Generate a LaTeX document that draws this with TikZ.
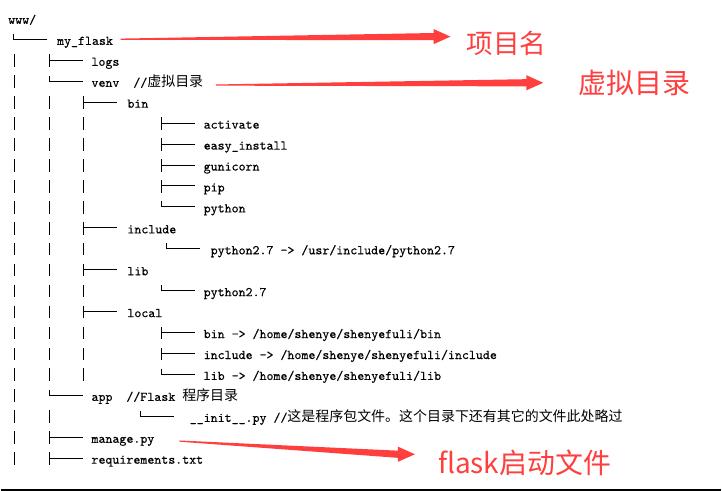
\documentclass[tikz,border=0pt]{standalone}
\usepackage{fontspec}
\setmonofont{Latin Modern Mono}[FakeBold=0.3]
\newfontfamily\cjk{Noto Sans CJK SC}
\usetikzlibrary{calc}
\definecolor{notered}{RGB}{255,62,62}
\tikzset{
         treeline/.style={line width=0.75pt,black},
         file/.style={anchor=base west,inner sep=0pt,font=\ttfamily\fontsize{10}{12}\selectfont},
         redlabel/.style={inner sep=0pt,text=notered,font=\cjk\fontsize{20}{24}\selectfont},
         redarrow/.style={fill=notered}
        }
\newcommand{\zh}[1]{{\cjk\fontsize{10.5}{12}\selectfont #1}}
\newcommand{\treebar}[2]{\draw[treeline](#1,#2-11.5)--(#1,#2+1.2);}
\newcommand{\treetee}[2]{\draw[treeline](#1,#2-11.5)--(#1,#2+1.2)(#1,#2-5.5)--(#1+34,#2-5.5);}
\newcommand{\treeelbow}[2]{\draw[treeline](#1,#2-11)--(#1,#2-5.5)--(#1+34,#2-5.5);}
\newcommand{\notearrow}[2]{\fill[redarrow]($(#1)+(0,-0.6)$)--($(#2)+(-17,-3.6)$)--($(#2)+(-17,-7.6)$)--(#2)--($(#2)+(-17,7.6)$)--($(#2)+(-17,3.6)$)--($(#1)+(0,0.6)$)--cycle;}

\begin{document}
\begin{tikzpicture}[x=0.75pt,y=-0.75pt]
\fill[white](0,0)rectangle(722,492);
\draw[line width=1.5pt](0,491)--(722,491);
% the tree
\node[file](root)at(7,24){www/};
\treeelbow{12.5}{45}
\node[file](myflask)at(56,45){my\_flask};
\treebar{13.5}{66}\treetee{48.5}{66}
\node[file](logs)at(90.5,66){logs};
\treebar{13.5}{87}\treeelbow{48.5}{87}
\node[file](venv)at(90.5,87){venv\ \ //\zh{虚拟目录}};
\treebar{13.5}{108}\treebar{48.5}{108}\treetee{82.5}{108}
\node[file](bin)at(126.5,108){bin};
\treebar{13.5}{129}\treebar{48.5}{129}\treebar{82.5}{129}\treetee{160.5}{129}
\node[file](activate)at(203,129){activate};
\treebar{13.5}{150}\treebar{48.5}{150}\treebar{82.5}{150}\treetee{160.5}{150}
\node[file](easyinstall)at(203,150){easy\_install};
\treebar{13.5}{171}\treebar{48.5}{171}\treebar{82.5}{171}\treetee{160.5}{171}
\node[file](gunicorn)at(203,171){gunicorn};
\treebar{13.5}{192}\treebar{48.5}{192}\treebar{82.5}{192}\treetee{160.5}{192}
\node[file](pip)at(203,192){pip};
\treebar{13.5}{213}\treebar{48.5}{213}\treebar{82.5}{213}\treeelbow{160.5}{213}
\node[file](python)at(203,213){python};
\treebar{13.5}{234}\treebar{48.5}{234}\treetee{82.5}{234}
\node[file](include)at(126.5,234){include};
\treebar{13.5}{255}\treebar{48.5}{255}\treebar{82.5}{255}\treeelbow{165.5}{255}
\node[file](incpython)at(210,255){python2.7 -> /usr/include/python2.7};
\treebar{13.5}{276}\treebar{48.5}{276}\treetee{82.5}{276}
\node[file](lib)at(126.5,276){lib};
\treebar{13.5}{297}\treebar{48.5}{297}\treebar{82.5}{297}\treeelbow{160.5}{297}
\node[file](libpython)at(203,297){python2.7};
\treebar{13.5}{318}\treebar{48.5}{318}\treetee{82.5}{318}
\node[file](local)at(126.5,318){local};
\treebar{13.5}{339}\treebar{48.5}{339}\treebar{82.5}{339}\treetee{160.5}{339}
\node[file](localbin)at(203,339){bin -> /home/shenye/shenyefuli/bin};
\treebar{13.5}{360}\treebar{48.5}{360}\treebar{82.5}{360}\treetee{160.5}{360}
\node[file](localinc)at(203,360){include -> /home/shenye/shenyefuli/include};
\treebar{13.5}{381}\treebar{48.5}{381}\treebar{82.5}{381}\treeelbow{160.5}{381}
\node[file](locallib)at(203,381){lib -> /home/shenye/shenyefuli/lib};
\treebar{13.5}{402}\treeelbow{48.5}{402}
\node[file](app)at(90.5,402){app\ \ //Flask \zh{程序目录}};
\treebar{13.5}{423}\treebar{48.5}{423}\treeelbow{139.5}{423}
\node[file](init)at(189,423){\_\_init\_\_.py //\zh{这是程序包文件。这个目录下还有其它的文件此处略过}};
\treebar{13.5}{444}\treetee{48.5}{444}
\node[file](manage)at(90.5,444){manage.py};
\treebar{13.5}{465}\treetee{48.5}{465}
\node[file](reqs)at(90.5,465){requirements.txt};
% red notes
\node[redlabel](projname)at(507,43){项目名};
\node[redlabel,font=\cjk\fontsize{21}{24}\selectfont](venvname)at(635,83.5){虚拟目录};
\node[redlabel,font=\cjk\fontsize{21}{24}\selectfont](startname)at(525,464.5){flask启动文件};
\coordinate(s1)at($(myflask.base east)+(7.3,-5.7)$);
\coordinate(t1)at($(projname.west)+(-16,-6.3)$);
\coordinate(s2)at($(venv.base east)+(12.5,-1.7)$);
\coordinate(t2)at($(venvname.west)+(-35,-0.5)$);
\coordinate(s3)at($(manage.base east)+(24.8,-1.7)$);
\coordinate(t3)at($(startname.west)+(-23,-9)$);
\notearrow{s1}{t1}
\notearrow{s2}{t2}
\notearrow{s3}{t3}
\end{tikzpicture}
\end{document}
